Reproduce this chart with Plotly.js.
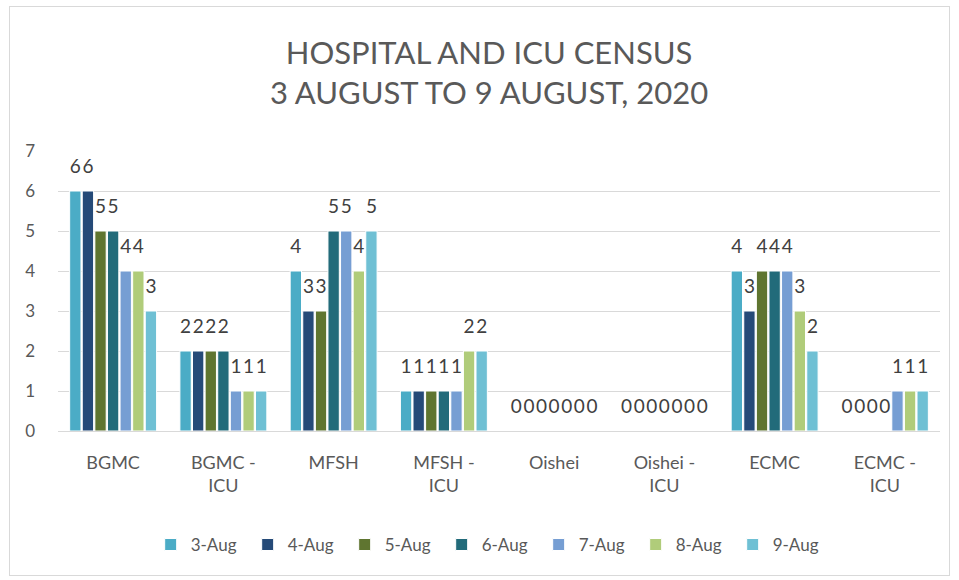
<!DOCTYPE html>
<html>
<head>
<meta charset="utf-8">
<script src="https://cdn.plot.ly/plotly-3.0.1.min.js"></script>
<style>
  html, body { margin: 0; padding: 0; background: #fff; }
  #wrap { position: relative; width: 959px; height: 580px; }
  #chart { position: absolute; left: 0; top: 0; width: 959px; height: 580px; }
  #frame { position: absolute; left: 9px; top: 6px; width: 939px; height: 568px; border: 1px solid #d9d9d9; pointer-events: none; }
</style>
</head>
<body>
<div id="wrap"><div id="chart"></div><div id="frame"></div></div>
<script>
const categories = ["BGMC", "BGMC -<br>ICU", "MFSH", "MFSH -<br>ICU", "Oishei", "Oishei -<br>ICU", "ECMC", "ECMC -<br>ICU"];
const seriesNames = ["3-Aug", "4-Aug", "5-Aug", "6-Aug", "7-Aug", "8-Aug", "9-Aug"];
const aug3 = [6, 2, 4, 1, 0, 0, 4, 0];
const aug4 = [6, 2, 3, 1, 0, 0, 3, 0];
const aug5 = [5, 2, 3, 1, 0, 0, 4, 0];
const aug6 = [5, 2, 5, 1, 0, 0, 4, 0];
const aug7 = [4, 1, 5, 1, 0, 0, 4, 1];
const aug8 = [4, 1, 4, 2, 0, 0, 3, 1];
const aug9 = [3, 1, 5, 2, 0, 0, 2, 1];
const colors = ["#4bacc6", "#254a78", "#5f7530", "#226b7a", "#769ed3", "#b0cc7a", "#6fc0d4"];
const yTicks = [0, 1, 2, 3, 4, 5, 6, 7];

const allSeries = [aug3, aug4, aug5, aug6, aug7, aug8, aug9];
const font = "Lato, 'Open Sans', 'Liberation Sans', sans-serif";

const barTraces = allSeries.map((vals, i) => ({
  type: "bar",
  name: seriesNames[i],
  x: categories,
  y: vals,
  marker: { color: colors[i], line: { color: "#ffffff", width: 1 } },
  hoverinfo: "x+y+name"
}));

const labelTraces = allSeries.map((vals, i) => ({
  type: "scatter",
  mode: "markers+text",
  name: seriesNames[i],
  showlegend: false,
  x: categories,
  y: vals,
  text: vals.map(String),
  textposition: "top center",
  textfont: { family: font, size: 19, color: "#404040" },
  marker: { size: 20, opacity: 0, color: colors[i] },
  cliponaxis: false,
  hoverinfo: "skip"
}));

const layout = {
  width: 959,
  height: 580,
  paper_bgcolor: "#ffffff",
  plot_bgcolor: "#ffffff",
  margin: { l: 58, r: 19, t: 151, b: 149 },
  barmode: "group",
  scattermode: "group",
  bargap: 0.2,
  bargroupgap: 0.1,
  scattergap: 0.2,
  title: {
    text: "HOSPITAL AND ICU CENSUS<br>3 AUGUST TO 9 AUGUST, 2020",
    font: { family: font, size: 31, color: "#595959" },
    x: 0.51,
    xanchor: "center",
    y: 0.89,
    yanchor: "top"
  },
  xaxis: {
    type: "category",
    tickfont: { family: font, size: 18, color: "#595959" },
    showgrid: false,
    showline: false,
    ticks: "",
    ticklabelstandoff: 19,
    fixedrange: true
  },
  yaxis: {
    range: [0, 7],
    tickvals: yTicks,
    ticktext: yTicks.map(String),
    tickfont: { family: font, size: 17, color: "#595959" },
    showgrid: true,
    gridcolor: "#d9d9d9",
    gridwidth: 1,
    zeroline: true,
    zerolinecolor: "#d9d9d9",
    zerolinewidth: 1,
    showline: false,
    ticks: "",
    ticklabelstandoff: 22,
    fixedrange: true
  },
  legend: {
    orientation: "h",
    x: 0.49,
    xanchor: "center",
    y: -0.407,
    yanchor: "middle",
    font: { family: font, size: 17, color: "#595959" },
    itemwidth: 30,
    entrywidth: 52,
    traceorder: "normal"
  },
  showlegend: true
};

Plotly.newPlot("chart", barTraces.concat(labelTraces), layout, { displayModeBar: false, staticPlot: true });
</script>
</body>
</html>
